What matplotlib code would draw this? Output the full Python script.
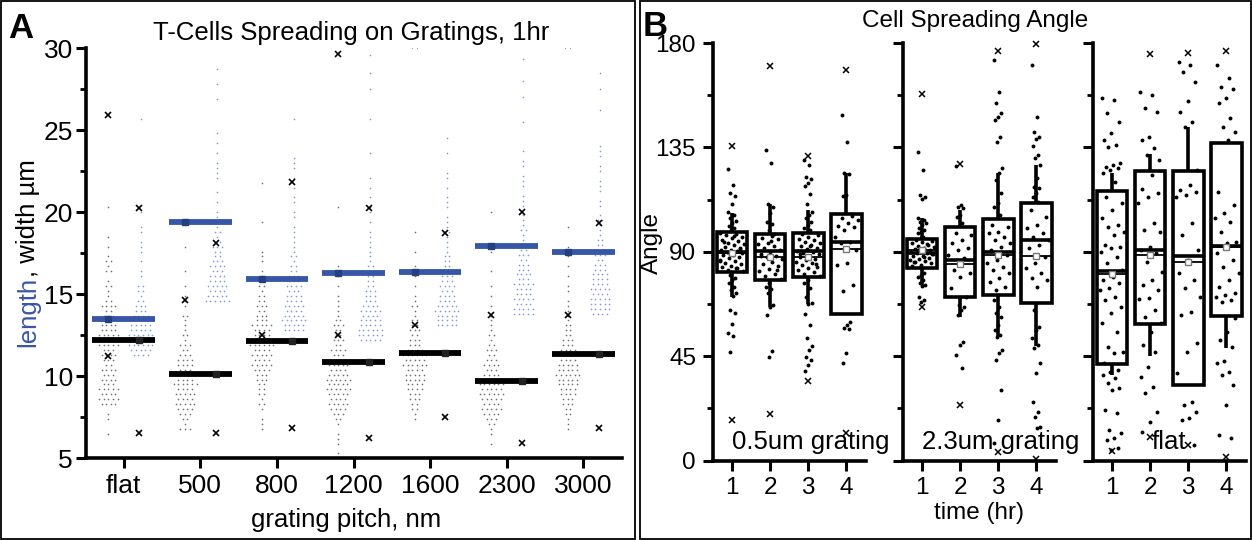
import matplotlib
matplotlib.use("Agg")
import matplotlib.pyplot as plt
import numpy as np
from matplotlib.patches import Rectangle
from matplotlib.ticker import MultipleLocator

plt.rcParams['font.family'] = ['Liberation Sans', 'DejaVu Sans']

# ---------------- panel A data ----------------
pitch_labels = ["flat", "500", "800", "1200", "1600", "2300", "3000"]
width_median = [12.2, 10.14, 12.13, 10.85, 11.4, 9.72, 11.36]
length_median = [13.5, 19.41, 15.95, 16.29, 16.37, 17.92, 17.54]

# dot histograms: lowest bin (um), counts per 0.3 um bin going up, sparse tail values
width_lo = [6.5, 6.8, 6.8, 5.3, 7.4, 5.9, 6.8]
width_counts = [
    [1, 0, 0, 1, 1, 0, 4, 5, 4, 5, 3, 4, 3, 4, 2, 3, 4, 3, 5, 6, 5, 4, 4, 5, 3, 2, 4, 2, 1, 1, 2, 1, 0, 2, 1, 2, 1, 0, 1],
    [3, 1, 2, 3, 4, 5, 4, 5, 4, 6, 4, 5, 3, 4, 4, 3, 2, 3, 1, 2, 1, 1, 1, 2, 0, 1, 1, 1],
    [1, 1, 1, 0, 1, 2, 1, 2, 2, 2, 3, 3, 4, 5, 4, 5, 4, 6, 5, 4, 4, 5, 3, 3, 2, 3, 2, 2, 1, 2, 1, 1, 1],
    [1, 0, 1, 1, 1, 0, 1, 2, 3, 4, 5, 4, 5, 6, 5, 6, 5, 4, 5, 4, 3, 4, 2, 3, 2, 2, 3, 2, 1, 1, 1, 1, 1],
    [1, 1, 2, 2, 3, 3, 4, 4, 5, 5, 4, 6, 5, 6, 4, 3, 3, 2, 3, 2, 2, 1, 1, 2, 1, 1],
    [1, 0, 1, 1, 2, 3, 4, 5, 4, 5, 6, 5, 6, 5, 4, 3, 4, 3, 2, 3, 2, 1, 2, 1, 1, 1, 1, 0, 1],
    [1, 1, 1, 2, 2, 3, 3, 4, 4, 5, 5, 6, 5, 5, 4, 5, 4, 3, 3, 2, 2, 2, 1, 1, 1, 1, 1],
]
width_tail = [
    [18.5, 20.3],
    [15.5, 16.4, 17.9],
    [17.0, 17.3, 17.6, 19.4, 21.8],
    [15.5, 16.1, 16.7, 20.3],
    [15.5, 16.1, 16.7, 17.6, 18.8],
    [14.9, 15.5, 16.4, 17.6, 17.9, 20.0],
    [15.2, 15.5, 16.1, 16.7, 17.3, 17.6, 17.9, 19.1],
]
length_lo = [11.3, 14.6, 12.8, 12.2, 13.1, 13.8, 13.8]
length_counts = [
    [4, 5, 6, 7, 6, 5, 5, 6, 4, 3, 3, 2, 1, 2, 2, 0, 1, 1, 0, 1, 0, 1, 1, 1, 0, 1, 1],
    [6, 5, 4, 5, 4, 4, 3, 4, 3, 2, 2, 3, 2, 1, 2, 1, 2, 1, 1],
    [5, 5, 6, 5, 4, 5, 4, 4, 3, 4, 3, 3, 2, 2, 1, 2, 1, 1, 1, 1, 1, 1, 0, 1, 1, 0, 1, 1],
    [5, 6, 6, 5, 5, 4, 5, 4, 3, 3, 3, 2, 2, 2, 1, 2, 1, 1, 1, 1, 1, 1, 1],
    [5, 5, 5, 6, 5, 4, 4, 3, 4, 3, 3, 2, 2, 2, 2, 1, 1, 1, 1, 2, 1, 1, 1],
    [5, 5, 4, 5, 4, 4, 5, 3, 4, 3, 3, 2, 3, 2, 2, 1, 1, 2, 1, 1, 1],
    [4, 5, 5, 5, 4, 5, 4, 4, 4, 3, 3, 2, 3, 2, 2, 2, 1, 1, 1, 2, 1],
]
length_tail = [
    [20.0, 25.7],
    [20.6, 21.2, 22.1, 22.4, 22.7, 23.0, 23.6, 24.2, 24.8, 26.9, 27.8, 28.7],
    [21.5, 22.1, 22.7, 23.0, 23.3, 25.7],
    [19.4, 20.0, 20.3, 20.9, 21.5, 22.1, 23.6, 25.7, 27.5, 28.5, 29.6],
    [20.3, 20.6, 20.9, 21.5, 22.1, 22.4, 23.6, 24.5],
    [20.4, 20.7, 21.0, 21.6, 21.9, 22.2, 22.8, 23.1, 23.7, 25.5, 27.0, 28.0, 29.3],
    [20.4, 20.7, 21.3, 21.6, 21.9, 22.5, 22.8, 23.4, 23.7, 24.0, 26.2, 27.5, 28.5],
]
width_cross = [[25.9, 11.23], [14.67], [12.49], [29.64, 12.49], [30.2, 13.12], [13.75], [30.2, 13.75]]
length_cross = [[20.27, 6.56], [18.11, 6.56], [21.84, 6.87], [20.27, 6.24], [18.74, 7.5], [19.98, 5.93], [19.35, 6.87]]

# ---------------- panel B data ----------------
times = [1, 2, 3, 4]
panel_names = ["0.5um grating", "2.3um grating", "flat"]

angles_05 = [
    [125.6, 118.8, 115.2, 114.2, 110.6, 107.3, 105.9, 104.4, 103.4, 102.3, 101.1, 100.1, 99.4,
     98.3, 97.6, 97.1, 96.2, 95.8, 95.0, 94.6, 93.9, 93.2, 92.8, 92.1, 91.7, 91.0, 90.6, 90.2, 89.9,
     89.4, 88.8, 88.5, 87.7, 87.3, 86.6, 85.9, 85.4, 84.7, 84.1, 83.5, 82.9, 82.2, 81.6, 96.8, 94.1,
     91.4, 89.0, 86.2, 83.0, 80.0, 78.9, 77.9, 76.4, 74.7, 73.6, 72.1, 71.0, 65.0, 63.5, 58.9,
     54.9, 53.7, 47.0],
    [133.9, 128.4, 110.5, 109.5, 106.6, 103.0, 102.0, 99.4, 97.7, 97.0, 96.1, 95.4, 94.0, 93.2,
     92.6, 91.5, 90.7, 90.1, 89.2, 88.4, 87.6, 86.9, 85.7, 84.8, 83.9, 82.7, 81.8, 80.6, 79.5,
     78.4, 94.6, 88.0, 82.0, 76.4, 75.0, 73.8, 72.1, 67.1, 66.1, 62.8, 47.3, 44.6],
    [129.6, 127.4, 122.1, 121.2, 119.5, 118.4, 114.8, 110.6, 107.3, 105.9, 104.4, 103.0, 101.6,
     100.1, 99.4, 97.9, 97.2, 96.6, 95.7, 95.1, 94.3, 93.8, 93.0, 92.4, 91.8, 91.1, 90.5, 90.0,
     89.6, 89.1, 88.4, 87.8, 87.1, 86.5, 85.8, 85.2, 84.4, 83.6, 82.9, 82.1, 81.3, 80.4, 79.7,
     92.7, 88.9, 84.9, 77.9, 76.4, 74.3, 70.7, 67.8, 67.4, 63.2, 58.5, 52.8, 49.4, 47.7, 44.8,
     43.4, 41.2, 38.8],
    [149.0, 137.5, 124.1, 123.5, 114.5, 114.1, 105.4, 104.4, 103.7, 102.3, 101.3, 100.8, 99.4,
     96.6, 94.4, 93.7, 90.8, 85.0, 84.3, 75.7, 73.3, 59.9, 58.5, 57.0, 56.8, 46.3, 42.2],
]
angles_23 = [
    [133.2, 125.3, 114.5, 113.8, 112.6, 104.4, 103.7, 103.0, 102.6, 101.6, 100.1, 99.4, 98.7,
     98.0, 96.5, 95.2, 94.7, 94.1, 93.6, 93.0, 92.6, 92.1, 91.7, 91.2, 90.8, 90.4, 90.0, 89.7,
     89.3, 88.9, 88.4, 88.0, 87.5, 87.1, 86.6, 86.0, 85.5, 85.0, 84.4, 83.8, 93.3, 91.0, 89.1,
     87.8, 85.8, 80.7, 80.0, 79.0, 77.9, 76.4, 75.7, 75.3, 70.7, 69.3, 68.5],
    [127.0, 110.2, 109.5, 108.7, 105.9, 105.2, 102.3, 98.0, 97.3, 95.1, 93.7, 91.5, 90.8, 88.6,
     87.2, 82.2, 80.7, 79.3, 74.3, 70.7, 67.1, 66.4, 64.9, 62.8, 51.3, 49.9, 45.6, 40.1],
    [172.7, 159.0, 154.0, 149.7, 148.0, 146.8, 139.6, 137.2, 126.3, 123.8, 121.0, 115.2, 110.9,
     109.5, 105.9, 101.6, 100.9, 98.7, 98.0, 96.5, 95.1, 93.7, 92.3, 90.8, 88.6, 86.5, 85.1,
     83.6, 82.2, 80.7, 78.6, 77.2, 75.0, 73.6, 69.3, 66.4, 63.5, 62.1, 58.5, 56.3, 54.2, 53.4,
     47.7, 46.3, 43.4, 30.5, 17.5, 7.5],
    [170.5, 148.0, 141.8, 139.6, 138.5, 135.6, 131.7, 130.3, 127.4, 121.7, 118.1, 117.4, 115.2,
     113.8, 111.6, 108.0, 105.2, 101.6, 100.1, 98.0, 96.5, 95.1, 92.9, 91.5, 87.9, 85.1, 82.9,
     80.7, 78.6, 77.9, 75.0, 64.9, 57.8, 56.3, 52.7, 49.9, 48.4, 41.9, 37.6, 25.4, 21.1, 19.0,
     14.7, 14.0],
]
angles_flat = [
    [156.1, 155.4, 150.0, 146.1, 141.1, 138.2, 136.0, 135.0, 128.1, 127.4, 126.7, 126.0, 125.3,
     123.8, 120.2, 113.8, 110.9, 108.0, 104.4, 101.6, 100.8, 98.7, 97.3, 93.0, 92.2, 91.5, 90.1,
     87.9, 85.1, 82.2, 79.3, 77.9, 76.4, 74.3, 73.6, 70.7, 69.2, 66.4, 63.5, 59.2, 55.6, 49.1,
     47.0, 46.3, 42.0, 39.1, 38.4, 37.0, 35.5, 33.3, 31.2, 30.5, 21.9, 20.4, 13.2, 11.8, 9.6,
     8.9, 5.3, 4.6],
    [159.0, 157.6, 151.8, 150.4, 139.3, 138.2, 134.6, 131.7, 129.6, 123.1, 116.9, 115.2, 113.8,
     110.9, 102.3, 99.4, 98.7, 92.2, 90.8, 89.4, 85.8, 81.5, 77.9, 75.7, 73.6, 70.0, 69.5, 64.9,
     62.1, 59.2, 55.6, 49.9, 47.0, 40.5, 36.2, 31.9, 29.0, 21.1, 16.8, 12.5],
    [172.0, 170.5, 167.6, 163.3, 155.1, 150.4, 146.1, 143.9, 125.3, 118.8, 116.6, 115.9, 114.5,
     113.8, 102.3, 97.3, 90.8, 86.5, 80.7, 77.9, 74.3, 70.7, 64.2, 62.8, 50.6, 47.0, 37.6, 25.4,
     24.0, 21.1, 18.3, 17.6, 6.8],
    [170.5, 164.8, 161.2, 160.0, 156.1, 154.0, 147.5, 143.9, 141.8, 138.2, 115.9, 110.2, 106.6,
     104.4, 103.0, 98.7, 94.4, 93.7, 89.4, 86.5, 83.6, 80.7, 77.9, 75.0, 72.1, 71.4, 70.7, 69.2,
     68.5, 61.3, 55.6, 52.0, 49.1, 43.1, 42.0, 38.4, 37.0, 32.6, 24.0, 11.1, 9.6],
]
angle_cross = [
    [[135.7, 17.5], [169.9, 20.2], [131.5, 34.4], [168.4, 12.1]],
    [[158.0, 66.4], [127.9, 24.0], [176.6, 3.8], [179.5, 0.7]],
    [[4.1], [175.1, 10.1], [175.5, 6.7], [176.7, 1.8]],
]
box_q1 = [[81.2, 77.9, 79.3, 63.1], [83.2, 70.7, 71.4, 67.8], [41.7, 58.9, 32.6, 62.5]]
box_q3 = [[98.7, 97.6, 98.2, 106.4], [95.5, 100.8, 104.1, 110.9], [116.4, 125.0, 125.0, 137.0]]
box_median = [[90.1, 90.4, 90.4, 94.1], [89.4, 86.5, 90.1, 95.1], [81.9, 90.8, 88.4, 92.5]]
box_mean = [[89.4, 87.9, 87.9, 91.1], [91.0, 84.8, 88.6, 88.2], [80.5, 88.8, 85.5, 92.0]]
whisker_lo = [[70.7, 66.4, 67.5, 63.1], [75.7, 62.1, 53.4, 49.4], [37.0, 45.1, 32.6, 48.7]]
whisker_hi = [[106.7, 110.5, 108.0, 124.1], [104.4, 108.0, 124.1, 127.4], [124.1, 132.2, 143.6, 137.0]]

BLUE = '#3856a8'
W, H = 1252, 540
fig = plt.figure(figsize=(W / 100, H / 100), dpi=100)


def fx(px):
    return px / W


def fy(py):
    return 1 - py / H


# panel frames
for x0, x1 in [(1, 635), (640, 1251)]:
    fig.patches.append(Rectangle((fx(x0), fy(539)), fx(x1 - x0), 538 / H,
                                 transform=fig.transFigure, fill=False, lw=1.3, ec='black'))


def dot_rows(center, lo, counts, tail, step=0.06):
    xs, ys = [], []
    for i, c in enumerate(counts):
        for j in range(c):
            xs.append(center + (j - (c - 1) / 2) * step)
            ys.append(lo + 0.3 * i)
    for v in tail:
        xs.append(center)
        ys.append(v)
    return xs, ys


# ---------------- panel A ----------------
axA = fig.add_axes([fx(85.5), fy(458.3), fx(621.5 - 85.5), (458.3 - 48) / H])
axA.set_xlim(-0.5, 6.5)
axA.set_ylim(5, 30)
for s in ['top', 'right']:
    axA.spines[s].set_visible(False)
for s in ['left', 'bottom']:
    axA.spines[s].set_linewidth(2.6)
axA.set_xticks(range(len(pitch_labels)))
axA.set_xticklabels(pitch_labels)
axA.yaxis.set_major_locator(MultipleLocator(5))
axA.yaxis.set_minor_locator(MultipleLocator(2.5))
axA.tick_params(which='major', direction='out', length=7, width=2.2, labelsize=19, pad=4)
axA.tick_params(axis='y', which='major', pad=2)
axA.tick_params(which='minor', direction='out', length=4, width=2)

for i in range(len(pitch_labels)):
    xs, ys = dot_rows(i - 0.2, width_lo[i], width_counts[i], width_tail[i])
    axA.plot(xs, ys, 'o', ms=1.2, mew=0, color='#707070', zorder=2)
    xs, ys = dot_rows(i + 0.22, length_lo[i], length_counts[i], length_tail[i])
    axA.plot(xs, ys, 'o', ms=1.2, mew=0, color='#8199dc', zorder=2)

x = np.arange(len(pitch_labels))
axA.hlines(length_median, x - 0.41, x + 0.41, color=BLUE, lw=4.2, zorder=3)
axA.hlines(width_median, x - 0.41, x + 0.41, color='black', lw=4.2, zorder=3)
axA.plot(x - 0.2, length_median, 's', ms=4, color='#24407f', zorder=4)
axA.plot(x + 0.2, width_median, 's', ms=4, color='#222222', zorder=4)
for i in range(len(pitch_labels)):
    axA.plot([i - 0.2] * len(width_cross[i]), width_cross[i], 'x', ms=5, mew=1.2,
             color='black', zorder=5)
    axA.plot([i + 0.2] * len(length_cross[i]), length_cross[i], 'x', ms=5, mew=1.2,
             color='black', zorder=5)

fig.text(fx(351), fy(33), "T-Cells Spreading on Gratings, 1hr", fontsize=18.5,
         ha='center', va='center')
fig.text(fx(346), fy(520), "grating pitch, nm", fontsize=18.5, ha='center', va='center')
fig.text(fx(21), fy(29), "A", fontsize=25, fontweight='bold', ha='center', va='center')

# two-colour y label
fig.canvas.draw()
rend = fig.canvas.get_renderer()
t1 = fig.text(fx(35), fy(347), "length", color=BLUE, fontsize=18.5, rotation=90,
              rotation_mode='anchor', ha='left', va='baseline')
bb = t1.get_window_extent(rend)
fig.text(fx(35), bb.y1 / fig.bbox.height, ", width µm", color='black', fontsize=18.5,
         rotation=90, rotation_mode='anchor', ha='left', va='baseline')

# ---------------- panel B ----------------
b_lefts = [712.7, 902.7, 1092.7]
b_data = [angles_05, angles_23, angles_flat]
for k in range(3):
    ax = fig.add_axes([fx(b_lefts[k]), fy(460.7), fx(153.6), (460.7 - 43) / H])
    ax.set_xlim(0.5, 4.52)
    ax.set_ylim(0, 180)
    for s in ['top', 'right']:
        ax.spines[s].set_visible(False)
    for s in ['left', 'bottom']:
        ax.spines[s].set_linewidth(2.6)
    ax.set_xticks(times)
    ax.yaxis.set_major_locator(MultipleLocator(45))
    ax.yaxis.set_minor_locator(MultipleLocator(22.5))
    ax.tick_params(which='major', direction='out', length=7, width=2.2, labelsize=17.5, pad=5)
    ax.tick_params(which='minor', direction='out', length=4, width=2)
    if k > 0:
        ax.tick_params(axis='y', labelleft=False)

    for j, t in enumerate(times):
        q1, q3 = box_q1[k][j], box_q3[k][j]
        ax.vlines(t, whisker_lo[k][j], q1, color='black', lw=2.6, zorder=2)
        ax.vlines(t, q3, whisker_hi[k][j], color='black', lw=2.6, zorder=2)
        ax.add_patch(Rectangle((t - 0.4, q1), 0.8, q3 - q1, facecolor='white',
                               edgecolor='black', lw=2.6, zorder=2))
        ax.hlines(box_median[k][j], t - 0.4, t + 0.4, color='black', lw=2.6, zorder=3)
        ax.hlines(box_mean[k][j], t - 0.4, t + 0.4, color='black', lw=1.3, zorder=3)
        ax.plot(t, box_mean[k][j], 's', ms=4, mfc='white', mec='#777777', mew=1, zorder=5)

        vals = np.array(b_data[k][j])
        n = len(vals)
        frac = (np.arange(n) * 0.6180339887) % 1 - 0.5
        inside = (vals >= q1) & (vals <= q3)
        amp = np.where(inside, 0.66, 0.22 if k < 2 else 0.5)
        ax.plot(t + frac * amp, vals, 'o', ms=2.8, mew=0, color='black', zorder=4)
        cr = angle_cross[k][j]
        ax.plot([t] * len(cr), cr, 'x', ms=5, mew=1.1, color='black', zorder=5, clip_on=False)

    ax.text(1.0 if k < 2 else 2.05, 8, panel_names[k], fontsize=18.5, ha='left',
            va='center', zorder=6)

fig.text(fx(975), fy(21), "Cell Spreading Angle", fontsize=17.5, ha='center', va='center')
fig.text(fx(979), fy(513), "time (hr)", fontsize=17.5, ha='center', va='center')
fig.text(fx(652), fy(243), "Angle", fontsize=17.5, rotation=90, ha='center', va='center')
fig.text(fx(655), fy(27), "B", fontsize=25, fontweight='bold', ha='center', va='center')

fig.savefig("out.png", dpi=100)
